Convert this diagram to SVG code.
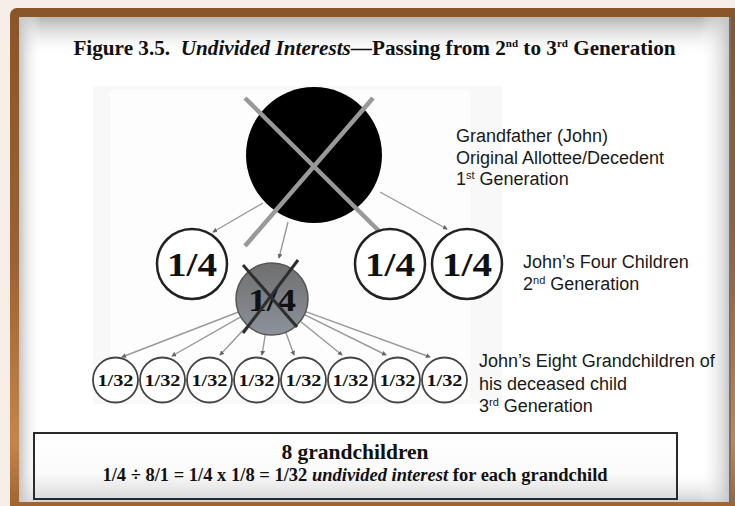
<svg xmlns="http://www.w3.org/2000/svg" width="735" height="506" viewBox="0 0 735 506">
<defs>
<linearGradient id="brown" x1="0" y1="0" x2="0" y2="1">
<stop offset="0" stop-color="#8a5527"/>
<stop offset="0.5" stop-color="#9c6230"/>
<stop offset="0.85" stop-color="#c4854a"/>
<stop offset="1" stop-color="#9a5e2c"/>
</linearGradient>
<linearGradient id="gTop" x1="0" y1="0" x2="0" y2="1">
<stop offset="0" stop-color="#b4b4b4"/>
<stop offset="1" stop-color="#ffffff" stop-opacity="0"/>
</linearGradient>
<linearGradient id="gBot" x1="0" y1="0" x2="0" y2="1">
<stop offset="0" stop-color="#ffffff" stop-opacity="0"/>
<stop offset="1" stop-color="#cfcfcf"/>
</linearGradient>
<linearGradient id="gLeft" x1="0" y1="0" x2="1" y2="0">
<stop offset="0" stop-color="#c4c4c4"/>
<stop offset="1" stop-color="#ffffff" stop-opacity="0"/>
</linearGradient>
<linearGradient id="gRight" x1="0" y1="0" x2="1" y2="0">
<stop offset="0" stop-color="#ffffff" stop-opacity="0"/>
<stop offset="1" stop-color="#c0c0c0"/>
</linearGradient>
<linearGradient id="boxFill" x1="0" y1="0" x2="0" y2="1">
<stop offset="0" stop-color="#ffffff"/>
<stop offset="0.6" stop-color="#fbfbfb"/>
<stop offset="1" stop-color="#dcdcdc"/>
</linearGradient>
<linearGradient id="grayNode" x1="0" y1="0" x2="0" y2="1">
<stop offset="0" stop-color="#6e6e6e"/>
<stop offset="1" stop-color="#8c939c"/>
</linearGradient>
<marker id="arr" viewBox="0 0 6 6" refX="5" refY="3" markerWidth="3.5" markerHeight="3.5" orient="auto">
<path d="M0,0 L6,3 L0,6 z" fill="#666"/>
</marker>
<style>
.conn{stroke:#999;stroke-width:1.4;fill:none;marker-end:url(#arr)}
.child{fill:#fff;stroke:#222;stroke-width:2.5}
.gc{fill:#fff;stroke:#444;stroke-width:1.8}
.frac{font-family:"Liberation Serif",serif;font-weight:bold;fill:#111;text-anchor:middle}
.lbl{font-family:"Liberation Sans",Arial,sans-serif;font-size:18px;fill:#1a1a1a}
.sup{font-size:11px}
.ttl{font-family:"Liberation Serif",serif;font-weight:bold;fill:#111}
.xbig{stroke:#999;stroke-width:4.5}
.xsmall{stroke:#2e2e2e;stroke-width:3}
</style>
</defs>

<!-- background and frame -->
<rect x="0" y="0" width="735" height="506" fill="#f6eee7"/>
<rect x="10" y="8" width="740" height="510" rx="7" fill="url(#brown)"/>
<rect x="19" y="17" width="712" height="485" fill="#ffffff"/>
<rect x="19" y="17" width="712" height="40" fill="url(#gTop)"/>
<rect x="19" y="470" width="712" height="32" fill="url(#gBot)"/>
<rect x="19" y="17" width="22" height="485" fill="url(#gLeft)"/>
<rect x="700" y="17" width="31" height="485" fill="url(#gRight)"/>
<line x1="730" y1="17" x2="730" y2="502" stroke="#555" stroke-width="1.5"/>

<!-- picture area -->
<rect x="93" y="86" width="409" height="318" fill="#f8f8f8"/>
<rect x="110" y="90" width="360" height="310" fill="#fdfdfd"/>

<!-- title -->
<text class="ttl" x="374.5" y="55" font-size="21.2" text-anchor="middle">Figure 3.5.&#160; <tspan font-style="italic">Undivided Interests</tspan>—Passing from 2<tspan class="sup" dy="-8">nd</tspan><tspan dy="8"> to 3</tspan><tspan class="sup" dy="-8">rd</tspan><tspan dy="8"> Generation</tspan></text>

<!-- connectors -->
<g id="connectors">
<line class="conn" x1="263" y1="203" x2="213" y2="232"/>
<line class="conn" x1="288" y1="222" x2="279" y2="258"/>
<line class="conn" x1="380" y1="192" x2="447" y2="229"/>
<line class="conn" x1="238.5" y1="312" x2="122" y2="357"/>
<line class="conn" x1="240.7" y1="316.8" x2="172" y2="356"/>
<line class="conn" x1="247.5" y1="325.4" x2="220" y2="355"/>
<line class="conn" x1="265.3" y1="334.4" x2="262" y2="355"/>
<line class="conn" x1="285.8" y1="332.2" x2="294" y2="355"/>
<line class="conn" x1="300.3" y1="321.2" x2="342" y2="355"/>
<line class="conn" x1="304.4" y1="314.6" x2="386" y2="355"/>
<line class="conn" x1="305.7" y1="311.6" x2="430" y2="357"/>
</g>

<!-- grandfather -->
<g id="grandfather">
<circle cx="314" cy="155" r="68" fill="#000"/>
<line class="xbig" x1="245" y1="98" x2="382" y2="234"/>
<line class="xbig" x1="373" y1="98" x2="245" y2="246"/>
</g>

<!-- children -->
<g id="child1">
<circle class="child" cx="192" cy="264" r="35"/>
<text class="frac" x="192" y="276" font-size="33" textLength="50" lengthAdjust="spacingAndGlyphs">1/4</text>
</g>
<g id="child2">
<circle class="child" cx="390" cy="264" r="35"/>
<text class="frac" x="390" y="276" font-size="33" textLength="50" lengthAdjust="spacingAndGlyphs">1/4</text>
</g>
<g id="child3">
<circle class="child" cx="467" cy="264" r="35"/>
<text class="frac" x="467" y="276" font-size="33" textLength="50" lengthAdjust="spacingAndGlyphs">1/4</text>
</g>
<g id="deceasedChild">
<circle cx="272" cy="299" r="36" fill="url(#grayNode)" stroke="#555" stroke-width="1.5"/>
<text class="frac" x="272" y="311" font-size="32" fill="#222" textLength="48" lengthAdjust="spacingAndGlyphs">1/4</text>
<line class="xsmall" x1="243" y1="265" x2="297" y2="327"/>
<line class="xsmall" x1="298" y1="260" x2="243" y2="333"/>
</g>

<!-- grandchildren -->
<g id="gc1"><circle class="gc" cx="115.5" cy="380" r="22.5"/><text class="frac" x="115.5" y="386" font-size="16" textLength="36" lengthAdjust="spacingAndGlyphs">1/32</text></g>
<g id="gc2"><circle class="gc" cx="162.5" cy="380" r="22.5"/><text class="frac" x="162.5" y="386" font-size="16" textLength="36" lengthAdjust="spacingAndGlyphs">1/32</text></g>
<g id="gc3"><circle class="gc" cx="209.5" cy="380" r="22.5"/><text class="frac" x="209.5" y="386" font-size="16" textLength="36" lengthAdjust="spacingAndGlyphs">1/32</text></g>
<g id="gc4"><circle class="gc" cx="256.5" cy="380" r="22.5"/><text class="frac" x="256.5" y="386" font-size="16" textLength="36" lengthAdjust="spacingAndGlyphs">1/32</text></g>
<g id="gc5"><circle class="gc" cx="303.5" cy="380" r="22.5"/><text class="frac" x="303.5" y="386" font-size="16" textLength="36" lengthAdjust="spacingAndGlyphs">1/32</text></g>
<g id="gc6"><circle class="gc" cx="350.5" cy="380" r="22.5"/><text class="frac" x="350.5" y="386" font-size="16" textLength="36" lengthAdjust="spacingAndGlyphs">1/32</text></g>
<g id="gc7"><circle class="gc" cx="397.5" cy="380" r="22.5"/><text class="frac" x="397.5" y="386" font-size="16" textLength="36" lengthAdjust="spacingAndGlyphs">1/32</text></g>
<g id="gc8"><circle class="gc" cx="444.5" cy="380" r="22.5"/><text class="frac" x="444.5" y="386" font-size="16" textLength="36" lengthAdjust="spacingAndGlyphs">1/32</text></g>

<!-- labels -->
<g id="label1">
<text class="lbl" x="456" y="142">Grandfather (John)</text>
<text class="lbl" x="456" y="163.5">Original Allottee/Decedent</text>
<text class="lbl" x="456" y="185">1<tspan class="sup" dy="-6">st</tspan><tspan dy="6"> Generation</tspan></text>
</g>
<g id="label2">
<text class="lbl" x="523" y="268">John’s Four Children</text>
<text class="lbl" x="523" y="290">2<tspan class="sup" dy="-6">nd</tspan><tspan dy="6"> Generation</tspan></text>
</g>
<g id="label3">
<text class="lbl" x="479" y="367">John’s Eight Grandchildren of</text>
<text class="lbl" x="479" y="390">his deceased child</text>
<text class="lbl" x="479" y="412">3<tspan class="sup" dy="-6">rd</tspan><tspan dy="6"> Generation</tspan></text>
</g>

<!-- bottom box -->
<g id="summary">
<rect x="34" y="433" width="643" height="66" fill="url(#boxFill)" stroke="#2a2a2a" stroke-width="2"/>
<text class="ttl" x="355" y="459" font-size="21.5" text-anchor="middle">8 grandchildren</text>
<text class="ttl" x="355" y="481" font-size="18.5" text-anchor="middle">1/4 ÷ 8/1 = 1/4 x 1/8 = 1/32 <tspan font-style="italic">undivided interest</tspan> for each grandchild</text>
</g>
</svg>
